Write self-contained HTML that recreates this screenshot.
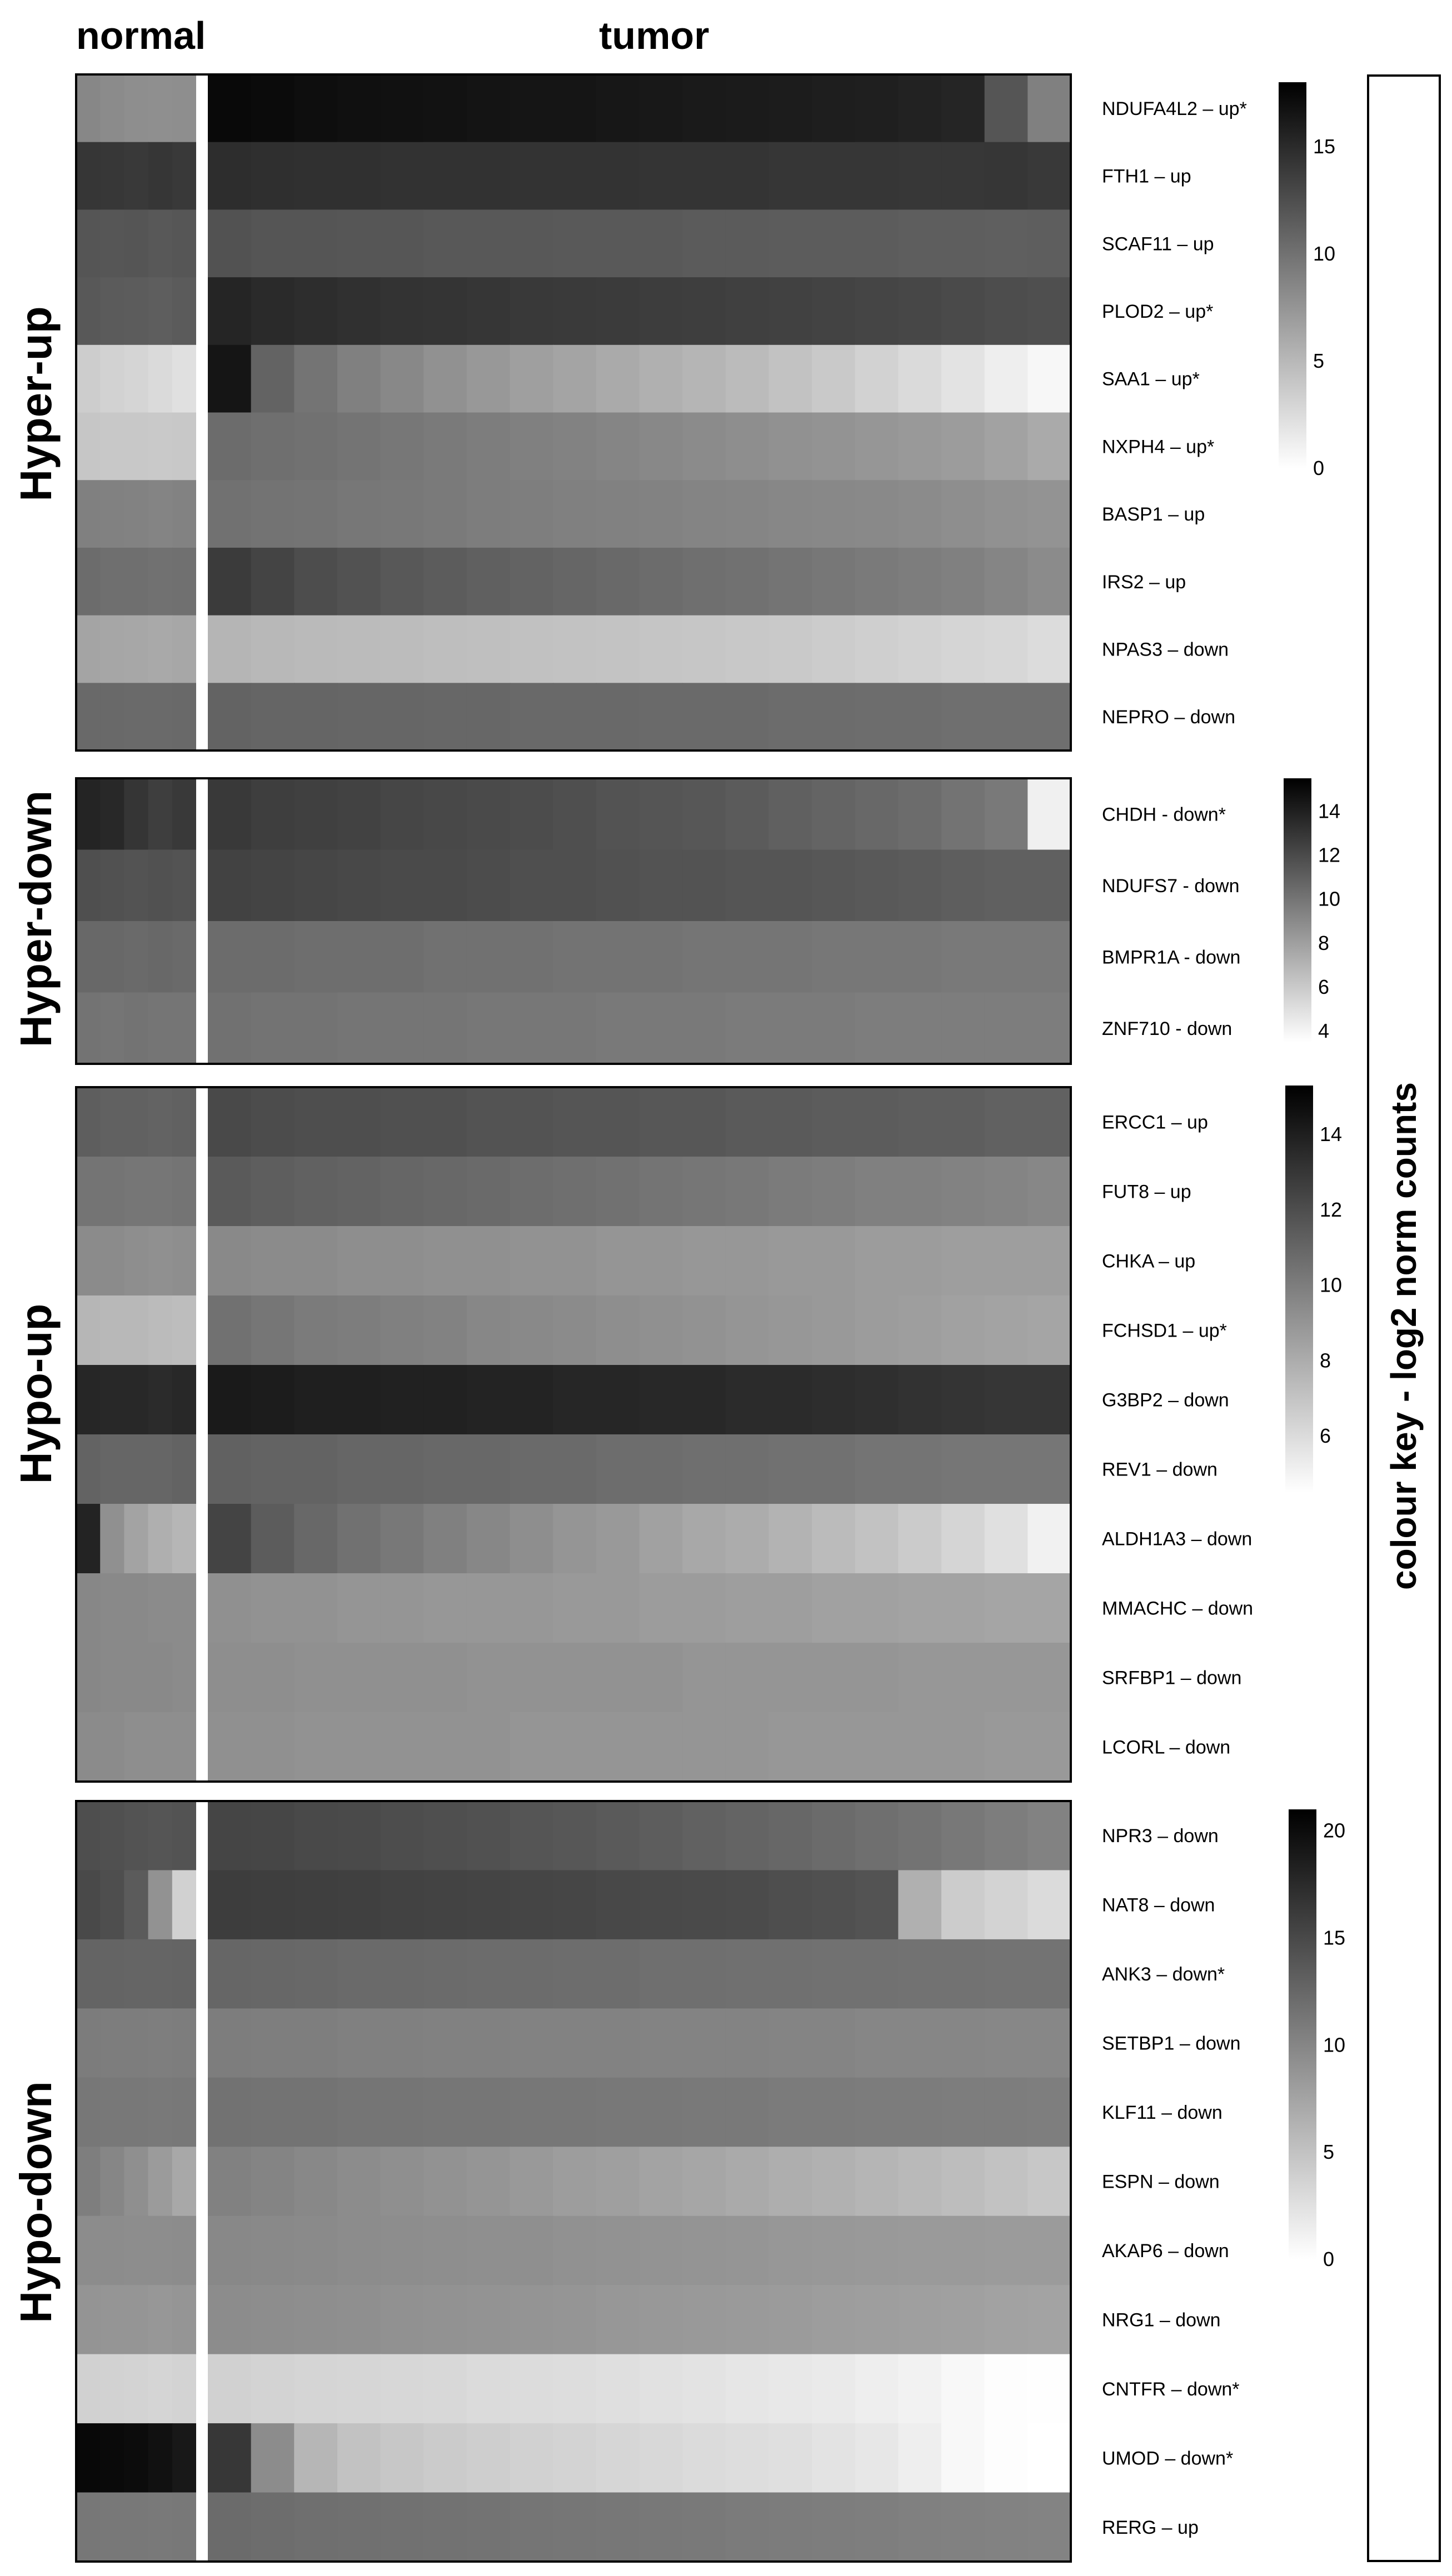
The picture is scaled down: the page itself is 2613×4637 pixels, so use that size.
<!DOCTYPE html>
<html><head><meta charset="utf-8"><style>
html,body{margin:0;padding:0;background:#fff;}
svg{display:block;}
text{font-family:"Liberation Sans",sans-serif;}
</style></head><body>
<svg id="chart" width="2613" height="4637" viewBox="0 0 2613 4637" xmlns="http://www.w3.org/2000/svg">
<text x="137" y="88" font-size="70" font-weight="bold">normal</text>
<text x="1078" y="88" font-size="70" font-weight="bold">tumor</text>
<rect x="2462" y="136" width="129" height="4474" fill="none" stroke="#000" stroke-width="4"/>
<text transform="translate(2548,2405) rotate(-90)" text-anchor="middle" font-size="64" font-weight="bold">colour key - log2 norm counts</text>
<g id="panels"></g>
</svg>
<script>
// ---- Data ----
const hyperUpGenes = ["NDUFA4L2 – up*","FTH1 – up","SCAF11 – up","PLOD2 – up*","SAA1 – up*","NXPH4 – up*","BASP1 – up","IRS2 – up","NPAS3 – down","NEPRO – down"];
const hyperUpNormal = [
 [8.5,8.2,8,7.9,8],[14.2,14.1,14,14.2,14],[12,11.9,12,11.8,11.9],[11.8,11.6,11.5,11.4,11.6],[3.5,3.2,3,2.6,2.2],
 [4,3.9,3.9,3.8,3.9],[9,8.9,8.8,8.7,8.8],[10.4,10.2,10.2,10,10.1],[6.4,6.3,6.2,6.1,6.2],[10.6,10.6,10.5,10.5,10.6]];
const hyperUpTumor = [
 [17.4,17.2,17,16.9,16.8,16.7,16.6,16.5,16.5,16.4,16.3,16.2,16.1,16,15.9,15.8,15.6,15.4,12,9],
 [14.8,14.7,14.6,14.6,14.5,14.5,14.5,14.4,14.4,14.4,14.3,14.3,14.3,14.2,14.2,14.2,14.1,14.1,14.2,14],
 [12.2,12,12,11.9,11.9,11.8,11.8,11.8,11.7,11.7,11.7,11.6,11.6,11.5,11.5,11.5,11.4,11.4,11.3,11.4],
 [15.4,15,14.8,14.6,14.4,14.3,14.2,14,13.9,13.8,13.7,13.6,13.5,13.4,13.3,13.1,13,12.8,12.6,12.4],
 [16.5,11,9.8,9,8.4,7.8,7.3,6.8,6.4,6,5.6,5.2,4.8,4.3,3.8,3.2,2.6,2,1.2,0.6],
 [10.4,10.2,10,9.8,9.6,9.4,9.2,9,8.8,8.6,8.4,8.2,8,7.8,7.6,7.4,7.2,7,6.6,6],
 [10,9.9,9.8,9.6,9.5,9.4,9.2,9.1,9,8.9,8.8,8.7,8.6,8.5,8.4,8.3,8.2,8,7.8,7.6],
 [13.8,13.2,12.6,12.2,11.8,11.5,11.2,11,10.8,10.6,10.4,10.2,10,9.8,9.6,9.4,9.2,9,8.6,8.2],
 [5.2,5,4.9,4.8,4.7,4.6,4.5,4.4,4.3,4.2,4.1,4,3.9,3.8,3.6,3.4,3.2,3,2.8,2.5],
 [11,10.9,10.9,10.8,10.8,10.7,10.7,10.6,10.6,10.6,10.5,10.5,10.5,10.4,10.4,10.3,10.3,10.2,10.2,10.2]];

const hyperDownGenes = ["CHDH - down*","NDUFS7 - down","BMPR1A - down","ZNF710 - down"];
const hyperDownNormal = [[13.8,13.6,13,12.6,12.8],[11.8,11.7,11.6,11.7,11.6],[10.6,10.6,10.5,10.6,10.5],[10.1,10,10.1,10,10]];
const hyperDownTumor = [
 [12.8,12.6,12.5,12.4,12.2,12.1,12,11.9,11.8,11.6,11.5,11.4,11.2,11,10.8,10.6,10.4,10.1,9.8,4.2],
 [12.4,12.3,12.2,12.1,12,12,11.9,11.8,11.8,11.7,11.6,11.6,11.5,11.5,11.4,11.3,11.2,11.1,11,11],
 [10.4,10.4,10.3,10.3,10.3,10.2,10.2,10.2,10.1,10.1,10.1,10,10,10,9.9,9.9,9.9,9.8,9.8,9.8],
 [10.2,10.1,10.1,10,10,10,9.9,9.9,9.9,9.8,9.8,9.8,9.7,9.7,9.7,9.6,9.6,9.6,9.6,9.6]];

const hypoUpGenes = ["ERCC1 – up","FUT8 – up","CHKA – up","FCHSD1 – up*","G3BP2 – down","REV1 – down","ALDH1A3 – down","MMACHC – down","SRFBP1 – down","LCORL – down"];
const hypoUpNormal = [[11.3,11.2,11.2,11.1,11.2],[10.4,10.4,10.3,10.3,10.4],[9.4,9.4,9.3,9.2,9.3],[7.6,7.5,7.5,7.4,7.3],[13.7,13.6,13.6,13.5,13.6],
 [11.1,11,11,11,11.1],[13.8,9.2,8.4,7.9,7.6],[9.6,9.5,9.5,9.4,9.4],[9.6,9.5,9.5,9.5,9.4],[9.4,9.4,9.3,9.3,9.3]];
const hypoUpTumor = [
 [12.2,12.1,12,12,11.9,11.9,11.8,11.8,11.7,11.7,11.6,11.6,11.5,11.5,11.4,11.4,11.3,11.3,11.2,11.2],
 [11.5,11.3,11.2,11.1,11,10.9,10.8,10.7,10.6,10.5,10.4,10.3,10.2,10.1,10,9.9,9.9,9.8,9.7,9.6],
 [9.5,9.4,9.4,9.3,9.3,9.2,9.2,9.1,9.1,9,9,8.9,8.9,8.8,8.8,8.7,8.7,8.6,8.6,8.6],
 [10.5,10.3,10.1,10,9.9,9.8,9.6,9.5,9.4,9.3,9.2,9.1,9,8.9,8.8,8.7,8.6,8.5,8.4,8.3],
 [14.2,14.1,14,14,13.9,13.9,13.8,13.8,13.7,13.7,13.6,13.6,13.5,13.5,13.4,13.3,13.2,13.1,13,13],
 [11.2,11.1,11.1,11,11,10.9,10.9,10.8,10.8,10.7,10.7,10.6,10.6,10.5,10.5,10.4,10.4,10.3,10.3,10.3],
 [12.4,11.4,10.9,10.5,10.2,9.9,9.6,9.3,9,8.8,8.5,8.2,8,7.7,7.4,7.1,6.7,6.3,5.8,5.1],
 [9.2,9.1,9.1,9,9,8.9,8.9,8.9,8.8,8.8,8.7,8.7,8.6,8.6,8.5,8.5,8.4,8.4,8.3,8.3],
 [9.3,9.3,9.2,9.2,9.2,9.2,9.1,9.1,9.1,9.1,9.1,9,9,9,9,9,8.9,8.9,8.9,8.9],
 [9.2,9.2,9.1,9.1,9.1,9.1,9.1,9,9,9,9,9,9,8.9,8.9,8.9,8.9,8.9,8.8,8.8]];

const hypoDownGenes = ["NPR3 – down","NAT8 – down","ANK3 – down*","SETBP1 – down","KLF11 – down","ESPN – down","AKAP6 – down","NRG1 – down","CNTFR – down*","UMOD – down*","RERG – up"];
const hypoDownNormal = [[14.6,14.4,14.2,14,14.2],[15,14.6,13.5,9,3.8],[12.8,12.8,12.7,12.7,12.8],[10.8,10.7,10.7,10.6,10.7],[11.2,11.1,11.1,11,11.1],
 [10.6,10,9.2,8.2,7.2],[9.5,9.5,9.4,9.4,9.5],[8.8,8.7,8.7,8.6,8.7],[3.8,3.7,3.6,3.5,3.6],[20.3,20.2,20,19.6,19]];
hypoDownNormal.push([11.2,11.1,11.1,11,11.1]);
const hypoDownTumor = [
 [15.3,15.2,15,14.9,14.7,14.5,14.3,14,13.8,13.6,13.3,13,12.8,12.5,12.2,11.9,11.5,11.1,10.7,10.3],
 [16,15.9,15.8,15.7,15.6,15.5,15.4,15.3,15.2,15.1,15,14.9,14.8,14.6,14.4,14.2,6.5,4.2,3.6,3],
 [12.6,12.5,12.4,12.3,12.3,12.2,12.1,12.1,12,12,11.9,11.9,11.8,11.8,11.7,11.7,11.6,11.6,11.5,11.5],
 [10.7,10.6,10.6,10.5,10.5,10.4,10.4,10.3,10.3,10.3,10.2,10.2,10.2,10.1,10.1,10,10,10,9.9,9.9],
 [11.6,11.5,11.5,11.4,11.4,11.3,11.3,11.2,11.2,11.1,11.1,11,11,10.9,10.9,10.8,10.8,10.7,10.7,10.6],
 [10.4,10.1,9.8,9.5,9.2,9,8.7,8.4,8.1,7.9,7.6,7.3,7,6.7,6.4,6.1,5.8,5.4,5,4.6],
 [9.8,9.7,9.6,9.5,9.4,9.3,9.2,9.2,9.1,9,8.9,8.8,8.7,8.6,8.5,8.4,8.3,8.3,8.2,8.2],
 [9.5,9.4,9.3,9.2,9.1,9,8.9,8.8,8.7,8.6,8.5,8.4,8.3,8.2,8.1,8,7.9,7.8,7.7,7.6],
 [3.8,3.6,3.5,3.4,3.3,3.2,3,2.9,2.8,2.6,2.5,2.3,2.1,1.9,1.7,1.4,1.1,0.6,0.2,0.1],
 [16.5,9.5,6,5,4.6,4.3,4,3.8,3.6,3.4,3.2,3,2.8,2.6,2.3,2,1.4,0.6,0.2,0],
 [12.2,12,11.9,11.8,11.7,11.6,11.5,11.4,11.3,11.2,11.1,11,10.9,10.8,10.7,10.6,10.5,10.4,10.3,10.2]];

const ticks1 = [0,5,10,15];
const ticks2 = [4,6,8,10,12,14];
const ticks3 = [6,8,10,12,14];
const ticks4 = [0,5,10,15,20];

// ---- Layout ----
const panels = [
 {name:"hyper-up", label:"Hyper-up", genes:hyperUpGenes, normal:hyperUpNormal, tumor:hyperUpTumor, lo:0, hi:18, ticks:ticks1, y0:134, y1:1351, labelY:727, cb:{x:2301,y0:148,y1:843}},
 {name:"hyper-down", label:"Hyper-down", genes:hyperDownGenes, normal:hyperDownNormal, tumor:hyperDownTumor, lo:3.5, hi:15.5, ticks:ticks2, y0:1401, y1:1915, labelY:1654, cb:{x:2310,y0:1401,y1:1876}},
 {name:"hypo-up", label:"Hypo-up", genes:hypoUpGenes, normal:hypoUpNormal, tumor:hypoUpTumor, lo:4.5, hi:15.3, ticks:ticks3, y0:1957, y1:3207, labelY:2509, cb:{x:2313,y0:1954,y1:2687}},
 {name:"hypo-down", label:"Hypo-down", genes:hypoDownGenes, normal:hypoDownNormal, tumor:hypoDownTumor, lo:0, hi:21, ticks:ticks4, y0:3242, y1:4611, labelY:3964, cb:{x:2319,y0:3257,y1:4067}}
];
const X0=137, NX1=353, TX0=374, X1=1927;
const NS="http://www.w3.org/2000/svg";
const root=document.getElementById("panels");
function mk(tag, attrs, parent){const e=document.createElementNS(NS,tag);for(const k in attrs)e.setAttribute(k,attrs[k]);(parent||root).appendChild(e);return e;}
function grey(v,lo,hi){let t=(v-lo)/(hi-lo);t=Math.max(0,Math.min(1,t));const g=Math.round(255*(1-t));return `rgb(${g},${g},${g})`;}

const defs=mk("defs",{});
panels.forEach((p,pi)=>{
  const g=mk("g",{});
  
  
  const n=p.genes.length, rh=(p.y1-p.y0)/n;
  const yScale=i=>p.y0+i*rh;
  p.genes.forEach((gene,i)=>{
    const nv=p.normal[i], tv=p.tumor[i];
    const nw=(NX1-X0)/nv.length;
    nv.forEach((v,j)=>{
      const r=mk("rect",{x:X0+j*nw,y:yScale(i),width:nw+1,height:rh+1,fill:grey(v,p.lo,p.hi)},g);
      
      
    });
    const tw=(X1-TX0)/tv.length;
    tv.forEach((v,j)=>{
      const r=mk("rect",{x:TX0+j*tw,y:yScale(i),width:tw+1,height:rh+1,fill:grey(v,p.lo,p.hi)},g);
      
      
    });
    const t=mk("text",{x:1983,y:yScale(i)+rh/2+12,"font-size":34},g);
    
    
    t.textContent=gene;
  });
  const gap=mk("rect",{x:NX1,y:p.y0,width:TX0-NX1,height:p.y1-p.y0,fill:"#fff"},g);
  
  
  const b=mk("rect",{x:X0,y:p.y0,width:X1-X0,height:p.y1-p.y0,fill:"none",stroke:"#000","stroke-width":4},g);
  
  
  const gl=mk("text",{transform:`translate(92,${p.labelY}) rotate(-90)`,"text-anchor":"middle","font-size":80,"font-weight":"bold"},g);
  
  
  gl.textContent=p.label;
  // colour bar
  const gid="grad"+pi;
  const lg=mk("linearGradient",{id:gid,x1:0,y1:0,x2:0,y2:1},defs);
  mk("stop",{offset:"0","stop-color":"#000"},lg);
  mk("stop",{offset:"1","stop-color":"#fff"},lg);
  const cb=mk("rect",{x:p.cb.x,y:p.cb.y0,width:50,height:p.cb.y1-p.cb.y0,fill:`url(#${gid})`},g);
  
  
  const cy=v=>p.cb.y1-(v-p.lo)/(p.hi-p.lo)*(p.cb.y1-p.cb.y0);
  p.ticks.forEach(tv=>{
    const t=mk("text",{x:p.cb.x+62,y:cy(tv)+12,"font-size":36},g);
    
    
    t.textContent=tv;
  });
});
</script>
</body></html>
